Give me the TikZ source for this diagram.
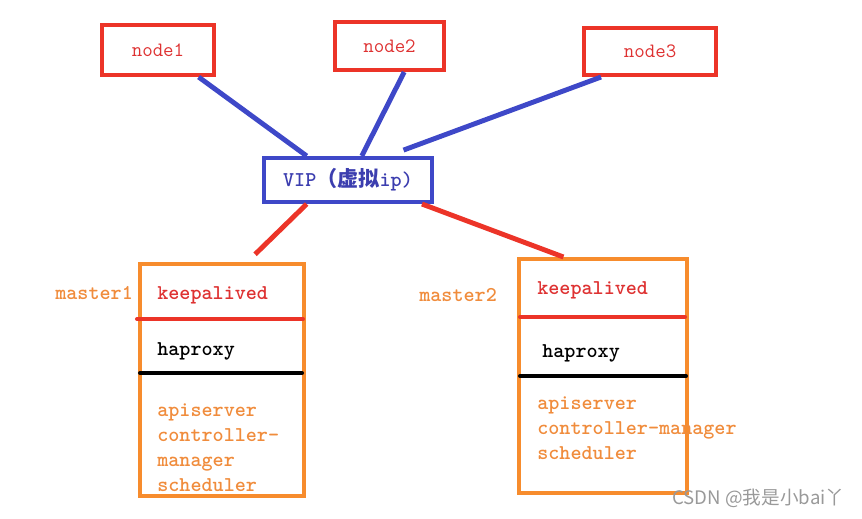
\documentclass[tikz,border=0pt]{standalone}
\usepackage{fontspec}
\newfontfamily\cjkfont{Noto Sans CJK SC}
\usetikzlibrary{calc}
\definecolor{linkred}{RGB}{236,52,40}
\definecolor{linkblue}{RGB}{62,72,200}
\definecolor{boxorange}{RGB}{247,140,45}
\definecolor{txtorange}{RGB}{240,140,60}
\definecolor{txtred}{RGB}{222,50,50}
\definecolor{txtblue}{RGB}{60,62,175}
\begin{document}
\begin{tikzpicture}[x=0.02cm,y=-0.02cm,
  hostbox/.style={draw=linkred, line width=2.3pt, text=txtred,
    font=\ttfamily\fontsize{11.6}{13}\selectfont},
  vipbox/.style={draw=linkblue, line width=2.3pt, text=txtblue,
    font=\ttfamily\bfseries\fontsize{12}{13}\selectfont},
  masterbox/.style={draw=boxorange, line width=2.3pt},
  boxtext/.style={inner sep=0pt, anchor=base west,
    font=\ttfamily\bfseries\fontsize{12}{13}\selectfont},
  bluelink/.style={draw=linkblue, line width=2.8pt},
  redlink/.style={draw=linkred, line width=2.8pt}]
\useasboundingbox (0,0) rectangle (862,518);
% Worker nodes
\node[hostbox, minimum width=112*0.02cm, minimum height=50*0.02cm] (node1) at (158,50) {node1};
\node[hostbox, minimum width=109*0.02cm, minimum height=48*0.02cm] (node2) at (389.5,46) {node2};
\node[hostbox, minimum width=132*0.02cm, minimum height=47*0.02cm] (node3) at (650,51.5) {node3};
% Virtual ip
\node[vipbox, minimum width=168*0.02cm, minimum height=44*0.02cm] (vip) at (348,180)
  {VIP{\cjkfont （虚拟}ip)};
% Links to the VIP
\draw[bluelink] ($(node1.south west)!0.85!(node1.south east)$) -- ($(vip.north west)!0.26!(vip.north east)$);
\draw[bluelink] ($(node2.south west)!0.63!(node2.south east)$) -- ($(vip.north west)!0.58!(vip.north east)$);
\draw[bluelink, shorten >=0.34cm] ($(node3.south west)!0.14!(node3.south east)$) -- ($(vip.north west)!0.73!(vip.north east)$);
% Masters
\node[masterbox, minimum width=164*0.02cm, minimum height=232*0.02cm] (master1) at (222,380) {};
\node[masterbox, minimum width=168*0.02cm, minimum height=234*0.02cm] (master2) at (603,376) {};
\draw[redlink, shorten >=0.22cm] ($(vip.south west)!0.26!(vip.south east)$) -- ($(master1.north west)!0.65!(master1.north east)$);
\draw[redlink] ($(vip.south west)!0.93!(vip.south east)$) -- ($(master2.north west)!0.27!(master2.north east)$);
% Layers inside the masters
\draw[linkred, line width=2.3pt, line cap=round] (137,319) -- (303,319);
\draw[black, line width=2.3pt, line cap=round] (140,373) -- (302,373);
\draw[linkred, line width=2.3pt, line cap=round] (520,317) -- (685,317);
\draw[black, line width=2.3pt, line cap=round] (520,376) -- (686,376);
\node[boxtext, text=txtorange] (lbl1) at (55,299) {master1};
\node[boxtext, text=txtred] (kp1) at (157,299) {keepalived};
\node[boxtext] (hp1) at (157,355) {haproxy};
\foreach \t [count=\i] in {apiserver,controller-,manager,scheduler}
  \node[boxtext, text=txtorange] (cp1\i) at (157,{391+25*\i}) {\t};
\node[boxtext, text=txtorange] (lbl2) at (419,301) {master2};
\node[boxtext, text=txtred] (kp2) at (537,294) {keepalived};
\node[boxtext] (hp2) at (542,357) {haproxy};
\foreach \t [count=\i] in {apiserver,controller-manager,scheduler}
  \node[boxtext, text=txtorange] (cp2\i) at (537,{384+25*\i}) {\t};
% Watermark
\node[anchor=west, inner sep=0pt, text=black!40, font=\cjkfont\fontsize{10.6}{12}\selectfont] (mark) at (672,498) {CSDN @我是小bai丫};
\end{tikzpicture}
\end{document}
